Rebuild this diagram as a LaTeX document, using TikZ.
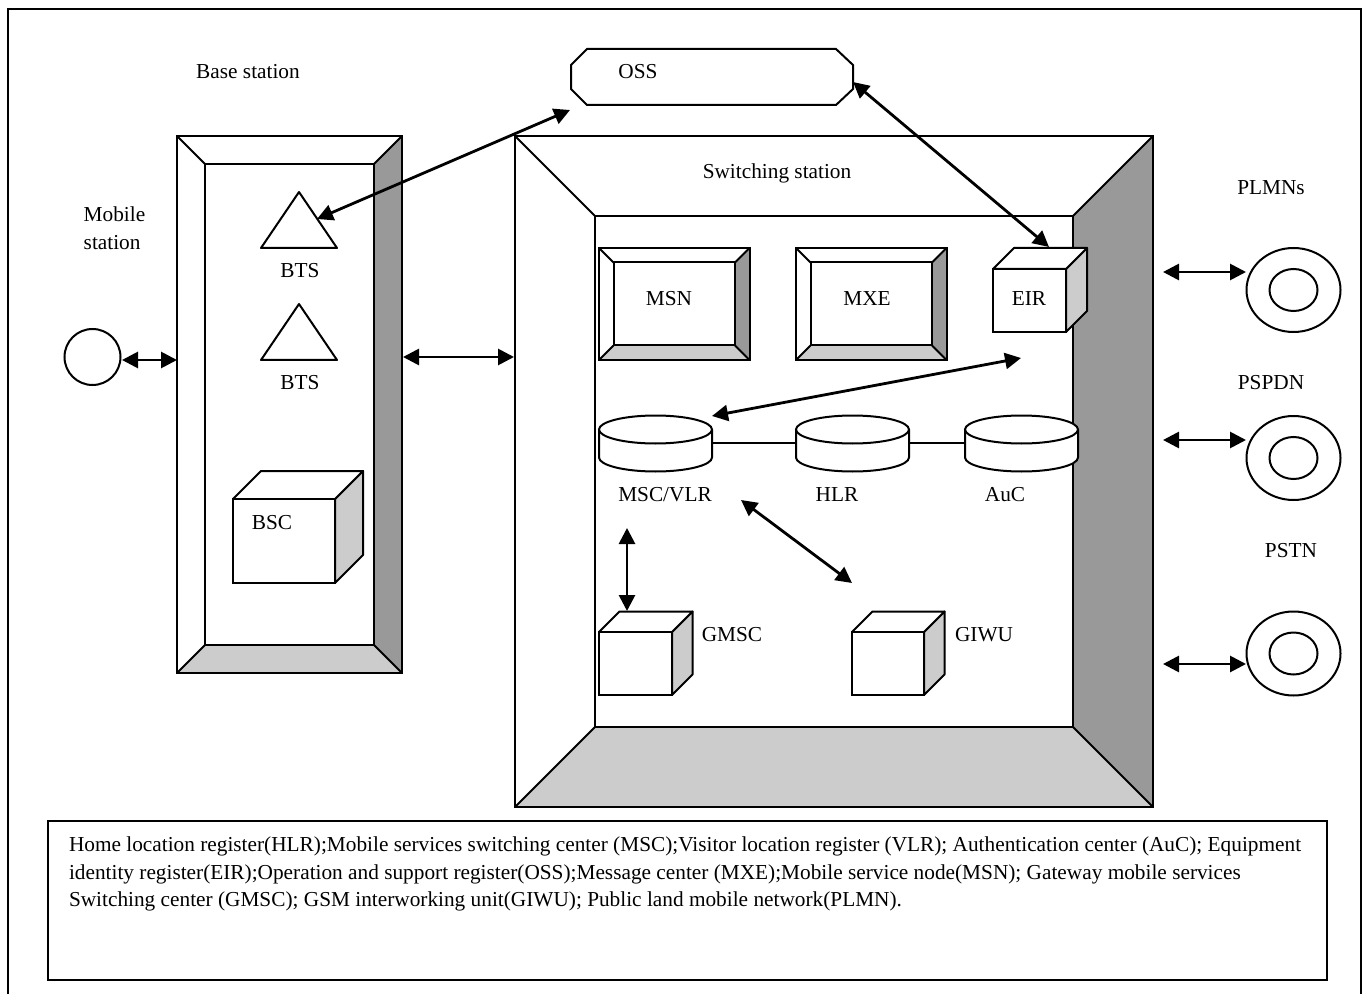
\documentclass[tikz,border=0pt]{standalone}
\usepackage{fontspec}
\setmainfont{Liberation Serif}
\usetikzlibrary{arrows.meta,shapes.geometric}
\begin{document}
\begin{tikzpicture}[x=0.5pt,y=-0.5pt,line width=1pt,
    font=\fontsize{10.65}{13.75}\selectfont,
    biarrow/.style={{Triangle[length=8pt,width=8pt]}-{Triangle[length=8pt,width=8pt]},line width=1.4pt},
    label/.style={inner sep=0pt},
    ringnode/.style={draw,ellipse,inner sep=0pt,fill=white}]

    % Colours
    \definecolor{sidegray}{RGB}{153,153,153}
    \definecolor{basegray}{RGB}{204,204,204}

    % Fixed size
    \useasboundingbox (0,0) rectangle (1364,994);

    % Bevelled frame: x0,y0,x1,y1,inset
    \newcommand{\bevelbox}[5]{%
        \fill[sidegray] (#3,#2) -- (#3,#4) -- (#3-#5,#4-#5) -- (#3-#5,#2+#5) -- cycle;
        \fill[basegray] (#1,#4) -- (#3,#4) -- (#3-#5,#4-#5) -- (#1+#5,#4-#5) -- cycle;
        \draw (#1,#2) rectangle (#3,#4);
        \draw (#1+#5,#2+#5) rectangle (#3-#5,#4-#5);
        \draw (#1,#2) -- (#1+#5,#2+#5);
        \draw (#3,#2) -- (#3-#5,#2+#5);
        \draw (#1,#4) -- (#1+#5,#4-#5);
        \draw (#3,#4) -- (#3-#5,#4-#5);
    }

    % Cube: x0,y0 (front top left),x1,y1 (front bottom right),depth
    \newcommand{\cubebox}[5]{%
        \draw[fill=basegray,line join=round] (#3,#2) -- (#3+#5,#2-#5) -- (#3+#5,#4-#5) -- (#3,#4) -- cycle;
        \draw[fill=white,line join=round] (#1,#2) -- (#1+#5,#2-#5) -- (#3+#5,#2-#5) -- (#3,#2) -- cycle;
        \draw[fill=white] (#1,#2) rectangle (#3,#4);
    }

    % Cylinder: x0,x1
    \newcommand{\diskbox}[2]{%
        \draw[fill=white] (#1,429.5) -- (#1,457.5) arc[start angle=180,end angle=0,x radius={(#2-#1)/2},y radius=14]
            -- (#2,429.5);
        \draw[fill=white] ({(#1+#2)/2},429.5) ellipse[x radius={(#2-#1)/2},y radius=14];
    }

    % Outer frame, open at the bottom
    \draw (8,994) -- (8,9) -- (1361,9) -- (1361,994);

    % Stations
    \bevelbox{177}{136}{402}{673}{28}
    \bevelbox{515}{136}{1153}{807}{80}

    % OSS
    \draw (587,49) -- (836,49) -- (853,65) -- (853,89) -- (836,105)
        -- (587,105) -- (571,89) -- (571,65) -- cycle;

    % Inner boxes
    \bevelbox{599}{248}{749.5}{360}{14.5}
    \bevelbox{796}{248}{946.5}{360}{14.5}

    % Cubes
    \cubebox{993}{269}{1066}{332}{21}
    \cubebox{233}{499}{335}{583}{28}
    \cubebox{599}{632}{672}{695}{20.5}
    \cubebox{852}{632}{924}{695}{20.5}

    % Triangles
    \draw[line join=round] (299,192) -- (337,248) -- (261,248) -- cycle;
    \draw[line join=round] (299,304) -- (337,360) -- (261,360) -- cycle;

    % Registers
    \draw (712,443) -- (796,443);
    \draw (909,443) -- (965,443);
    \diskbox{599}{712}
    \diskbox{796}{909}
    \diskbox{965}{1078}

    % Mobile station and networks
    \node[draw,circle,minimum size=28pt,inner sep=0pt] (mobile) at (92.5,357) {};
    \foreach \name/\ypos in {plmn/290,pspdn/458,pstn/653.5}{
        \node[ringnode,minimum width=47pt,minimum height=42pt] (\name) at (1293.5,\ypos) {};
        \node[ringnode,minimum width=24pt,minimum height=21pt] (\name inner) at (1293.5,\ypos) {};
    }

    % Connector ends
    \coordinate (baseleft) at (177,360);
    \coordinate (mobileright) at (122,360);
    \coordinate (baseright) at (403,357);
    \coordinate (switchleft) at (514,357);
    \coordinate (ossleft) at (570,110);
    \coordinate (btstop) at (317,219);
    \coordinate (ossright) at (853,82);
    \coordinate (eirtop) at (1049,247);
    \coordinate (eirbelow) at (1021,358);
    \coordinate (msctop) at (712,416);
    \coordinate (mscbelow) at (627,528);
    \coordinate (gmsctop) at (627,611);
    \coordinate (mscright) at (741,500);
    \coordinate (giwutop) at (852,583);

    % Connectors
    \draw[biarrow] (mobileright) -- (baseleft);
    \draw[biarrow] (baseright) -- (switchleft);
    \draw[biarrow] (ossleft) -- (btstop);
    \draw[biarrow] (ossright) -- (eirtop);
    \draw[biarrow] (eirbelow) -- (msctop);
    \draw[biarrow] (mscbelow) -- (gmsctop);
    \draw[biarrow] (mscright) -- (giwutop);
    \foreach \name/\ypos in {plmn/272,pspdn/440,pstn/664}{
        \coordinate (\name left) at (1163,\ypos);
        \draw[biarrow] (\name left) -- (1246,\ypos);
    }

    % Labels
    \node[label] (basetext) at (248,72) {Base station};
    \node[label] (osstext) at (638,72) {OSS};
    \node[label] (switchtext) at (777,173) {Switching station};
    \node[label,align=left] (mobiletext) at (114.5,228) {Mobile\\[0.3pt]station};
    \node[label] (bts1text) at (300,271) {BTS};
    \node[label] (bts2text) at (300,383) {BTS};
    \node[label] (bsctext) at (272,523) {BSC};
    \node[label] (msntext) at (669,299) {MSN};
    \node[label] (mxetext) at (867,299) {MXE};
    \node[label] (eirtext) at (1029,299) {EIR};
    \node[label] (msctext) at (665,495) {MSC/VLR};
    \node[label] (hlrtext) at (837,495) {HLR};
    \node[label] (auctext) at (1005,495) {AuC};
    \node[label] (gmsctext) at (732,635) {GMSC};
    \node[label] (giwutext) at (984,635) {GIWU};
    \node[label] (plmntext) at (1271,188) {PLMNs};
    \node[label] (pspdntext) at (1271,383) {PSPDN};
    \node[label] (pstntext) at (1291,551) {PSTN};

    % Legend
    \draw (48,821) rectangle (1327,980);
    \node[label,anchor=north west,align=left] (legendtext) at (68,836)
        {Home location register(HLR);Mobile services switching center (MSC);Visitor location register (VLR); Authentication center (AuC); Equipment\\
         identity register(EIR);Operation and support register(OSS);Message center (MXE);Mobile service node(MSN); Gateway mobile services\\
         Switching center (GMSC); GSM interworking unit(GIWU); Public land mobile network(PLMN).};

\end{tikzpicture}
\end{document}
